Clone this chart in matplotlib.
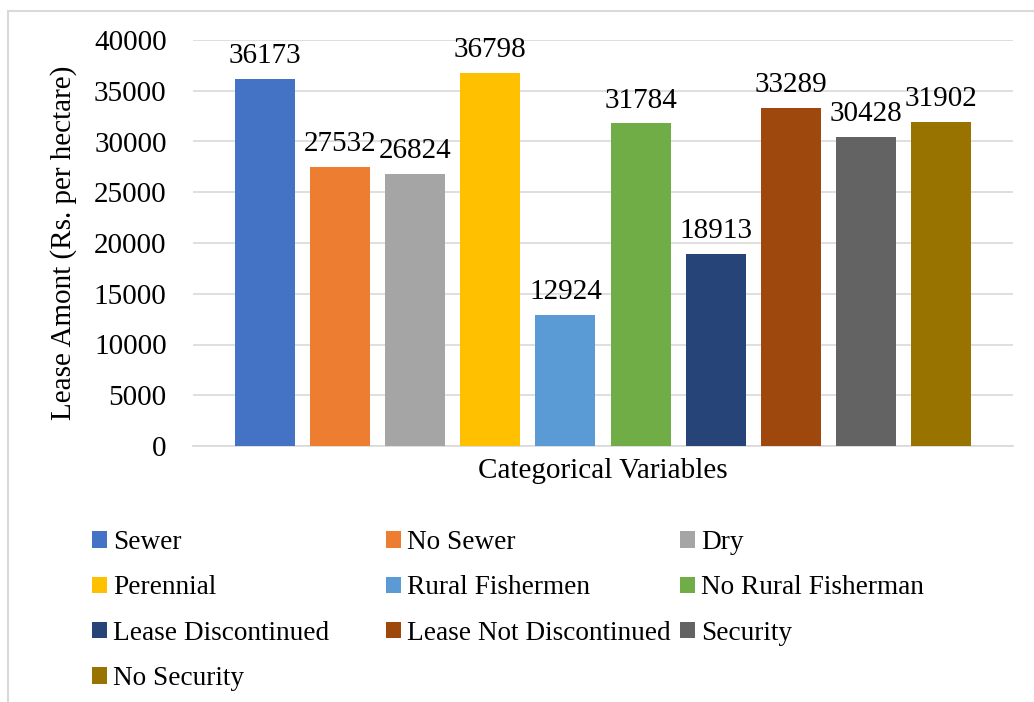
import matplotlib
matplotlib.use("Agg")
import matplotlib.pyplot as plt
from matplotlib.patches import Patch, Rectangle

# data
labels = ["Sewer", "No Sewer", "Dry", "Perennial", "Rural Fishermen",
          "No Rural Fisherman", "Lease Discontinued", "Lease Not Discontinued",
          "Security", "No Security"]
values = [36173, 27532, 26824, 36798, 12924, 31784, 18913, 33289, 30428, 31902]
colors = ["#4472C4", "#ED7D31", "#A5A5A5", "#FFC000", "#5B9BD5",
          "#70AD47", "#264478", "#9E480E", "#636363", "#997300"]
yticks = [0, 5000, 10000, 15000, 20000, 25000, 30000, 35000, 40000]

plt.rcParams["font.family"] = ["Liberation Serif", "DejaVu Serif"]

W, H = 1034, 702
fig = plt.figure(figsize=(W / 100, H / 100), dpi=100)

# light frame round the chart (runs off right/bottom)
fig.patches.append(Rectangle((8 / W, -0.1), 1.2, 1 - 11 / H + 0.1,
                             transform=fig.transFigure, fill=False,
                             edgecolor="#D9D9D9", linewidth=1.5))

ax = fig.add_axes([193 / W, 1 - 446 / H, (1013 - 193) / W, (446 - 40) / H])

x = range(len(values))
bars = ax.bar(x, values, width=0.8, color=colors, zorder=3)
for xi, v in zip(x, values):
    ax.annotate(str(v), (xi, v), xytext=(0, 7), textcoords="offset points",
                ha="center", va="bottom", fontsize=21)

ax.set_xlim(-0.957, 9.957)
ax.set_ylim(0, 40000)
ax.set_yticks(yticks)
ax.set_xticks([])
ax.tick_params(axis="y", length=0, pad=19, labelsize=21)
ax.grid(axis="y", color="#D9D9D9", linewidth=1.2, zorder=0)
for s in ["top", "right", "left"]:
    ax.spines[s].set_visible(False)
ax.spines["bottom"].set_color("#D9D9D9")
ax.spines["bottom"].set_linewidth(1.2)

ax.set_xlabel("Categorical Variables", fontsize=21, labelpad=9)
ax.set_ylabel("Lease Amont (Rs. per hectare)", fontsize=21, labelpad=12)

# Excel-style legend: three columns with their own widths
handles = [Patch(facecolor=c, edgecolor="none") for c in colors]
cols = [[0, 3, 6, 9], [1, 4, 7], [2, 5, 8]]
col_x = [92, 386, 680]
for idx, cx in zip(cols, col_x):
    leg = fig.legend([handles[i] for i in idx], [labels[i] for i in idx],
                     loc="upper left", bbox_to_anchor=(cx / W, 1 - 530 / H),
                     frameon=False, fontsize=19.6, handlelength=0.55,
                     handleheight=0.55, handletextpad=0.22, labelspacing=0.75,
                     borderpad=0, borderaxespad=0)

fig.savefig("out.png", dpi=100)
